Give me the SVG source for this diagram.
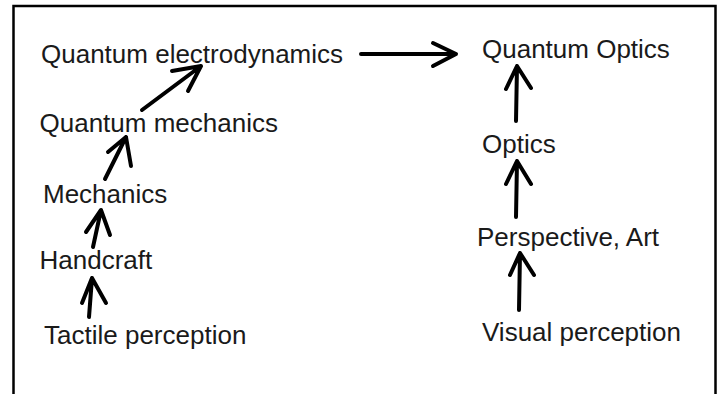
<svg xmlns="http://www.w3.org/2000/svg" width="718" height="394" viewBox="0 0 718 394">
<style>
.t{font-family:"Liberation Sans",Arial,sans-serif;font-size:26px;fill:#1a1a1a}
.a{fill:none;stroke:#000;stroke-width:4;stroke-linecap:round;stroke-linejoin:round}
.b{fill:none;stroke:#000;stroke-width:2.5}
</style>
<rect width="718" height="394" fill="#fff"/>
<path class="b" d="M13.5,394 V6 H715.5 V394"/>
<g id="connectors">
<path class="a" d="M142,110 L201,66 M172,71 L201,66 L188,91"/>
<path class="a" d="M105,179 L126,137 M108,152 L126,137 L131,166"/>
<path class="a" d="M93,247 L101,210 M86,232 L101,210 L110,235"/>
<path class="a" d="M89,317 L92,278 M82,303 L92,278 L106,303"/>
<path class="a" d="M361,54 L456,54 M433,43 L456,54 L433,66"/>
<path class="a" d="M516,121 L517,66 M506,89 L517,66 L531,88"/>
<path class="a" d="M516,217 L517,161 M506,184 L517,161 L531,184"/>
<path class="a" d="M519,310 L520,253 M510,275 L520,253 L534,275"/>
</g>
<g id="qed"><text class="t" x="41" y="62.5">Quantum electrodynamics</text></g>
<g id="qm"><text class="t" x="39.5" y="131.5">Quantum mechanics</text></g>
<g id="mechanics"><text class="t" x="43" y="202.5">Mechanics</text></g>
<g id="handcraft"><text class="t" x="39.5" y="269">Handcraft</text></g>
<g id="tactile"><text class="t" x="44" y="344">Tactile perception</text></g>
<g id="qo"><text class="t" x="482" y="57.5">Quantum Optics</text></g>
<g id="optics"><text class="t" x="482" y="153">Optics</text></g>
<g id="perspective"><text class="t" x="477" y="245.5">Perspective, Art</text></g>
<g id="visual"><text class="t" x="482" y="341">Visual perception</text></g>
</svg>
